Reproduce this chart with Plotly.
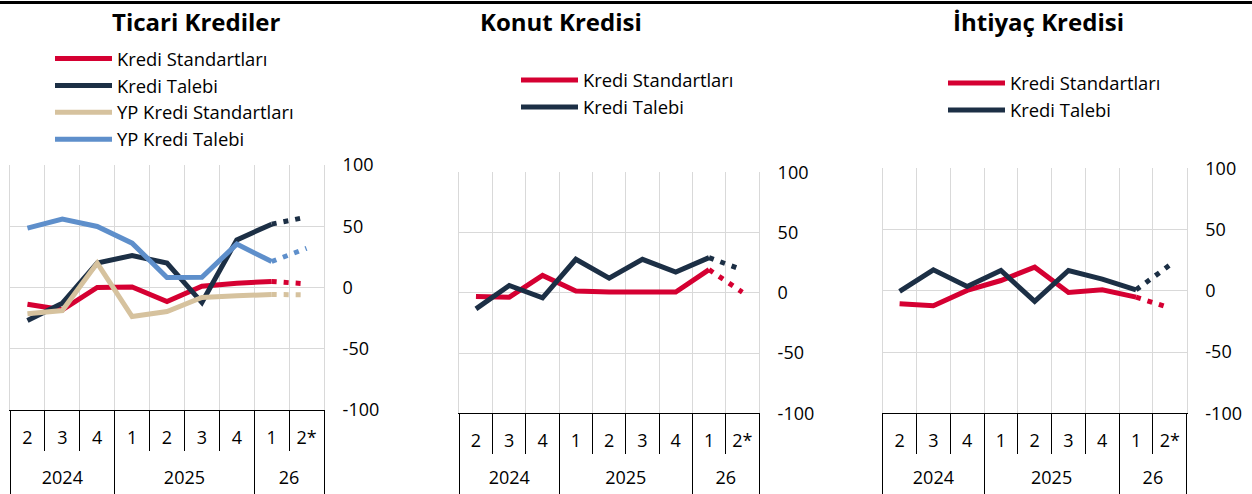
import plotly.graph_objects as go

# ---------------- data ----------------
years = ["2024", "2024", "2024", "2025", "2025", "2025", "2025", "26", "26"]
quarters = ["2", "3", "4", "1", "2", "3", "4", "1", "2*"]

ticari_standart = [-13.6, -18.2, 0.0, 0.5, -11.4, 1.0, 3.5, 4.9, 3.0]
ticari_talep = [-27.0, -12.8, 19.9, 26.1, 19.9, -12.3, 38.9, 51.7, 57.5]
ticari_yp_standart = [-21.5, -18.8, 19.9, -23.7, -19.6, -8.2, -6.8, -5.7, -6.0]
ticari_yp_talep = [48.5, 55.8, 49.8, 36.2, 8.2, 8.4, 35.4, 21.2, 32.0]

konut_standart = [-3.0, -3.6, 14.4, 1.4, 0.6, 1.1, 0.6, 19.2, 0.5]
konut_talep = [-13.3, 6.1, -4.2, 27.8, 12.2, 27.8, 17.2, 29.2, 19.0]

ihtiyac_standart = [-10.6, -12.2, 0.3, 8.4, 19.3, -1.4, 0.8, -5.2, -14.0]
ihtiyac_talep = [-0.5, 17.1, 3.5, 16.6, -8.7, 16.6, 9.5, 0.8, 21.0]

titles = ["Ticari Krediler", "Konut Kredisi", "İhtiyaç Kredisi"]
yticks = [-100, -50, 0, 50, 100]

RED = "#D50032"
NAVY = "#1C2F45"
TAN = "#D6C29E"
BLUE = "#5E8FCB"
GRID = "#D9D9D9"
FONT = "Open Sans"

W, H = 1252, 494

# category positions (index scale) derived from the label lists
n = len(quarters)
xpos = list(range(n))
bounds = [i - 0.5 for i in range(n + 1)]
year_names, year_centers, year_bounds = [], [], [-0.5]
for i, yv in enumerate(years):
    if not year_names or year_names[-1] != yv:
        year_names.append(yv)
        start = i
    if i == n - 1 or years[i + 1] != yv:
        year_centers.append((start + i) / 2)
        year_bounds.append(i + 0.5)

panels = [
    dict(series=[("Kredi Standartları", ticari_standart, RED),
                 ("Kredi Talebi", ticari_talep, NAVY),
                 ("YP Kredi Standartları", ticari_yp_standart, TAN),
                 ("YP Kredi Talebi", ticari_yp_talep, BLUE)],
         xpx=(10, 324), ypx=(165, 410), title_x=196,
         legend_pos=(50, 40)),
    dict(series=[("Kredi Standartları", konut_standart, RED),
                 ("Kredi Talebi", konut_talep, NAVY)],
         xpx=(459.3, 759), ypx=(172.3, 413.3), title_x=561,
         legend_pos=(516, 61.5)),
    dict(series=[("Kredi Standartları", ihtiyac_standart, RED),
                 ("Kredi Talebi", ihtiyac_talep, NAVY)],
         xpx=(882.7, 1186.7), ypx=(168.3, 413.3), title_x=1038,
         legend_pos=(943, 64.5)),
]

fig = go.Figure()
layout = dict(
    width=W, height=H, margin=dict(l=0, r=0, t=0, b=0, autoexpand=False),
    paper_bgcolor="white", plot_bgcolor="white",
    font=dict(family=FONT, size=18, color="#000000"),
    annotations=[], shapes=[],
)

for i, p in enumerate(panels):
    sfx = "" if i == 0 else str(i + 1)
    xa, ya = "x" + sfx, "y" + sfx
    xyear = "x" + str(i + 4)
    leg = "legend" + sfx
    for name, vals, col in p["series"]:
        fig.add_trace(go.Scatter(
            x=xpos[:8], y=vals[:8], mode="lines", name=name,
            line=dict(color=col, width=5), xaxis=xa, yaxis=ya, legend=leg,
            hoverinfo="skip"))
        fig.add_trace(go.Scatter(
            x=xpos[7:], y=vals[7:], mode="lines", name=name,
            line=dict(color=col, width=5, dash="5px,7px"), xaxis=xa, yaxis=ya,
            showlegend=False, hoverinfo="skip"))
    # empty trace so the year axis gets drawn
    fig.add_trace(go.Scatter(x=[], y=[], xaxis=xyear, yaxis=ya,
                             showlegend=False, hoverinfo="skip"))
    x0, x1 = p["xpx"]
    yt, yb = p["ypx"]
    # quarter row (main axis)
    layout["xaxis" + sfx] = dict(
        domain=[x0 / W, x1 / W], anchor=ya, type="linear",
        range=[-0.5, n - 0.5], tickmode="array", tickvals=xpos,
        ticktext=quarters, ticks="", showgrid=False, zeroline=False,
        showline=True, linecolor="#000000", linewidth=1,
        minor=dict(tickmode="array", tickvals=bounds, ticks="outside",
                   ticklen=40, tickcolor="#000000", tickwidth=1,
                   showgrid=True, gridcolor=GRID, gridwidth=1),
        tickfont=dict(size=18), ticklabelstandoff=11, automargin=False,
        fixedrange=True)
    # year row (overlaid axis)
    layout["xaxis" + str(i + 4)] = dict(
        overlaying=xa, anchor="free", position=1 - 450 / H, side="bottom",
        type="linear", range=[-0.5, n - 0.5], tickmode="array",
        tickvals=year_centers, ticktext=year_names, ticks="",
        showgrid=False, zeroline=False, showline=False,
        minor=dict(tickmode="array", tickvals=year_bounds, ticks="outside",
                   ticklen=50, tickcolor="#000000", tickwidth=1,
                   showgrid=False),
        tickfont=dict(size=18), ticklabelstandoff=15, automargin=False,
        fixedrange=True)
    layout["yaxis" + sfx] = dict(
        domain=[1 - yb / H, 1 - yt / H], anchor=xa, side="right",
        range=[-100, 100], tickvals=yticks, ticktext=[str(v) for v in yticks],
        showgrid=True, gridcolor=GRID, gridwidth=1, zeroline=False,
        showline=True, linecolor=GRID, linewidth=1, mirror=True,
        ticks="", ticklabelstandoff=14, tickfont=dict(size=18),
        automargin=False, fixedrange=True)
    lx, ly = p["legend_pos"]
    layout[leg] = dict(
        x=lx / W, y=1 - ly / H, xanchor="left", yanchor="top",
        bgcolor="rgba(0,0,0,0)", borderwidth=0, itemwidth=57,
        font=dict(size=18.4, family=FONT), tracegroupgap=0)
    layout["annotations"].append(dict(
        text="<b>" + titles[i] + "</b>", x=p["title_x"] / W, y=1 - 22 / H,
        xref="paper", yref="paper", xanchor="center", yanchor="middle",
        showarrow=False, font=dict(size=24, family=FONT, color="#000000")))

layout["shapes"].append(dict(
    type="line", xref="paper", yref="paper", x0=0, x1=1,
    y0=1 - 2.5 / H, y1=1 - 2.5 / H, line=dict(color="#000000", width=3)))

fig.update_layout(**layout)
fig.write_html("out.html", config={"displayModeBar": False},
               post_script="document.body.style.margin='0px';"
                           "document.body.style.overflow='hidden';")
